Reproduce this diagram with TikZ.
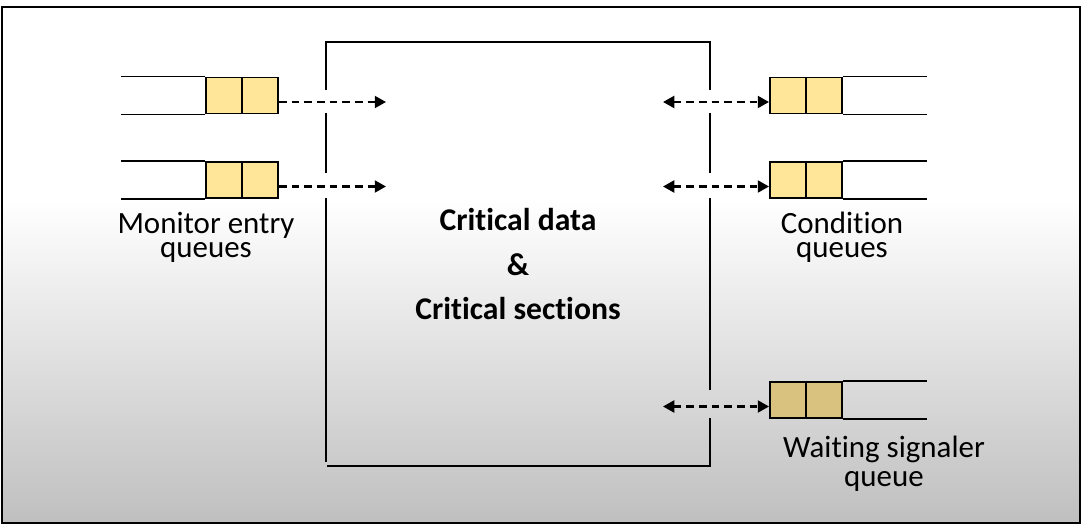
\documentclass[tikz,border=0pt]{standalone}
\usepackage{fontspec}
\setmainfont{Carlito}[Ligatures=CommonOff]
\usetikzlibrary{arrows.meta}

\definecolor{qlight}{HTML}{FFE699}
\definecolor{qdark}{HTML}{D9C27F}

\tikzset{
    cell/.style={draw, line width=1.4pt, minimum width=0.9cm, minimum height=0.9cm, inner sep=0pt},
    flow/.style={line width=1.6pt, dash pattern=on 5.5pt off 3.5pt, -{Triangle[length=8pt,width=8.5pt]}},
    flowboth/.style={flow, {Triangle[length=8pt,width=8.5pt]}-{Triangle[length=8pt,width=8.5pt]}},
    wall/.style={line width=1.7pt},
    lbl/.style={align=center, font=\fontsize{22}{17}\selectfont},
}

\begin{document}
\begin{tikzpicture}[x=0.025cm, y=-0.025cm]
    \useasboundingbox (0,0) rectangle (1083,525);

    % background and frame
    \fill[white] (2,7) rectangle (1080,200);
    \shade[top color=white, bottom color=black!25] (2,200) rectangle (1080,523);
    \draw[line width=2pt] (2,7) rectangle (1080,523);

    % monitor box, broken where the arrows pass
    \draw[wall] (326,90) -- (326,42) -- (710,42) -- (710,90);
    \draw[wall] (326,113) -- (326,173) (326,198) -- (326,462);
    \draw[wall] (710,113) -- (710,173) (710,198) -- (710,390) (710,418) -- (710,466) -- (327,466);

    % monitor entry queues
    \foreach \n/\y in {ea/95.5, eb/180} {
        \node[cell, fill=qlight] (\n1) at (224,\y) {};
        \node[cell, fill=qlight] (\n2) at (260,\y) {};
        \draw[line width=1.4pt] (\n1.north west) -- ++(-84,0) (\n1.south west) -- ++(-84,0);
        \coordinate (\n in) at (386,\y+6.5);
        \draw[flow] (\n2.east |- \n in) -- (\n in);
    }

    % condition queues and waiting signaler queue
    \foreach \n/\y/\c in {ca/95.5/qlight, cb/180/qlight, ws/400/qdark} {
        \node[cell, fill=\c] (\n1) at (788,\y) {};
        \node[cell, fill=\c] (\n2) at (824,\y) {};
        \draw[line width=1.4pt] (\n2.north east) -- ++(84,0) (\n2.south east) -- ++(84,0);
        \coordinate (\n out) at (663,\y+6.5);
        \draw[flowboth] (\n out) -- (\n1.west |- \n out);
    }

    % labels
    \node[lbl] (entry) at (206,237) {Monitor entry\\queues};
    \node[lbl] (cond) at (842,237) {Condition\\queues};
    \node[lbl, font=\fontsize{22}{20.5}\selectfont] (wait) at (884,464) {Waiting signaler\\queue};
    \node[font=\fontsize{22.5}{26}\bfseries] (data) at (518,220) {Critical data};
    \node[font=\fontsize{22.5}{26}\bfseries] (amp) at (518,265) {\&};
    \node[font=\fontsize{22.5}{26}\bfseries] (sect) at (518,309) {Critical sections};
\end{tikzpicture}
\end{document}
